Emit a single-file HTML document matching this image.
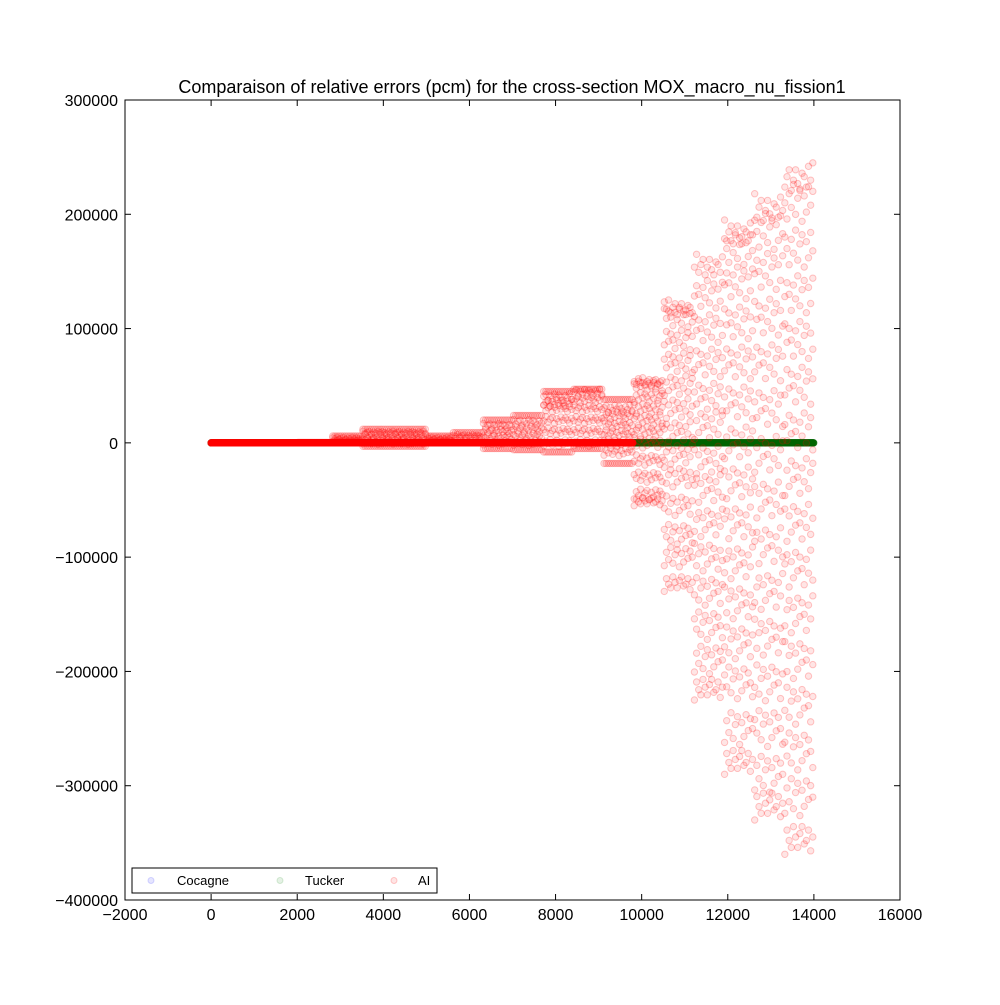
<!DOCTYPE html>
<html><head><meta charset="utf-8"><style>
body{margin:0;background:#fff;}
svg text{font-family:"Liberation Sans",sans-serif;}
</style></head><body>
<svg id="chart" width="1000" height="1000" viewBox="0 0 1000 1000">
<rect width="1000" height="1000" fill="#fff"/>
<text x="512" y="93" font-size="18" text-anchor="middle">Comparaison of relative errors (pcm) for the cross-section MOX_macro_nu_fission1</text>
<g id="marks"></g>
<g id="axes"></g>
<rect x="125" y="100" width="775" height="800" fill="none" stroke="#000" stroke-width="1"/>
<g>
<rect x="132" y="868" width="305" height="25" fill="#fff" stroke="#000"/>
<g><circle cx="151" cy="880.5" r="3" fill="rgba(0,0,255,0.1)" stroke="rgba(0,0,255,0.15)"/><text x="177" y="885" font-size="13">Cocagne</text></g>
<g><circle cx="280" cy="880.5" r="3" fill="rgba(0,128,0,0.1)" stroke="rgba(0,128,0,0.15)"/><text x="305" y="885" font-size="13">Tucker</text></g>
<g><circle cx="394" cy="880.5" r="3" fill="rgba(255,0,0,0.1)" stroke="rgba(255,0,0,0.2)"/><text x="418" y="885" font-size="13">AI</text></g>
</g>
</svg>
<script>
const xTicks=[-2000,0,2000,4000,6000,8000,10000,12000,14000,16000];
const yTicks=[-400000,-300000,-200000,-100000,0,100000,200000,300000];
const segStart=[0,2000,2800,3500,5000,5600,6300,7000,7700,8400,9100,9800,10500,11200,11900,12600,13300];
const segEnd=[2000,2800,3500,5000,5600,6300,7000,7700,8400,9100,9800,10500,11200,11900,12600,13300,14000];
const segLevels=[
[0],[0,500],[0,2000,4000,6000],[-3000,0,3000,6000,9000,12000],[0,2000,4000,6000],[0,3000,6000,9000],
[-5000,0,5000,10000,15000,20000],[-6000,0,6000,12000,18000,24000],
[-8000,0,10000,20000,30000,35000,40000,45000],[-5000,0,10000,20000,30000,38000,44000,47000],
[-18000,-8000,0,8000,16000,24000,30000,38000],
[-55000,-45000,-30000,-15000,0,10000,20000,30000,40000,50000,57000],
[-130000,-100000,-80000,-55000,-30000,-10000,10000,30000,50000,70000,90000,110000,125000],
[-225000,-190000,-160000,-130000,-100000,-70000,-40000,-15000,15000,40000,70000,100000,130000,165000],
[-290000,-250000,-210000,-175000,-140000,-105000,-70000,-35000,0,35000,70000,105000,140000,170000,195000],
[-330000,-290000,-250000,-210000,-170000,-130000,-90000,-50000,-10000,30000,70000,110000,150000,185000,218000],
[-360000,-310000,-270000,-230000,-190000,-150000,-110000,-70000,-30000,10000,50000,90000,130000,170000,210000,245000]];
const tuckerRange=[0,14000];
const aiZeroRange=[0,9800];
const jitter=[0,-0.35,0.2,-0.1,0.4,-0.25,0.1,0.3,-0.4,0.15,-0.2,0.35,-0.05,0.25];
const X=v=>125+(v+2000)*775/18000;
const Y=v=>100+(300000-v)*800/700000;
const NS="http://www.w3.org/2000/svg";
const marks=document.getElementById('marks'),axes=document.getElementById('axes');
function circ(x,y,fill,stroke,name){const c=document.createElementNS(NS,'circle');
c.setAttribute('cx',x);c.setAttribute('cy',y);c.setAttribute('r',3.2);c.setAttribute('fill',fill);c.setAttribute('stroke',stroke);


marks.appendChild(c);}
for(let v=tuckerRange[0];v<=tuckerRange[1];v+=15){circ(X(v),Y(0),'rgba(0,100,0,0.6)','rgba(0,100,0,0.8)','tucker-point');}
for(let v=aiZeroRange[0];v<=aiZeroRange[1];v+=15){circ(X(v),Y(0),'rgba(255,0,0,0.6)','rgba(255,0,0,0.8)','ai-point');}
segLevels.forEach((lv,i)=>{const s=segStart[i],e=segEnd[i];const gap=lv.length>1?(lv[lv.length-1]-lv[0])/(lv.length-1):0;
const big=lv.length>10;
let k=0;for(let v=s+25;v<e;v+=50,k++){lv.forEach((y,j)=>{let jt=jitter[(k+j)%jitter.length];
if(big&&j===0)jt=Math.abs(jt)*1.5;if(big&&j===lv.length-1)jt=-Math.abs(jt)*1.5;
const off=(!big&&(j===0||j===lv.length-1))?0:jt*gap;
circ(X(v),Y(y+off),'rgba(255,0,0,0.1)','rgba(255,0,0,0.22)','ai-point');});}});
function line(x1,y1,x2,y2){const l=document.createElementNS(NS,'line');l.setAttribute('x1',x1);l.setAttribute('y1',y1);l.setAttribute('x2',x2);l.setAttribute('y2',y2);l.setAttribute('stroke','#000');


axes.appendChild(l);}
function txt(x,y,s,anchor,name){const t=document.createElementNS(NS,'text');t.setAttribute('x',x);t.setAttribute('y',y);t.setAttribute('font-size','16');t.setAttribute('text-anchor',anchor);t.textContent=s;


axes.appendChild(t);}
const fmt=v=>v<0?'\u2212'+(-v):''+v;
xTicks.forEach(v=>{const x=X(v);line(x,900,x,894);line(x,100,x,106);txt(x,920,fmt(v),'middle','x-tick-label');});
yTicks.forEach(v=>{const y=Y(v);line(125,y,131,y);line(900,y,894,y);txt(118,y+6,fmt(v),'end','y-tick-label');});
</script>
</body></html>
